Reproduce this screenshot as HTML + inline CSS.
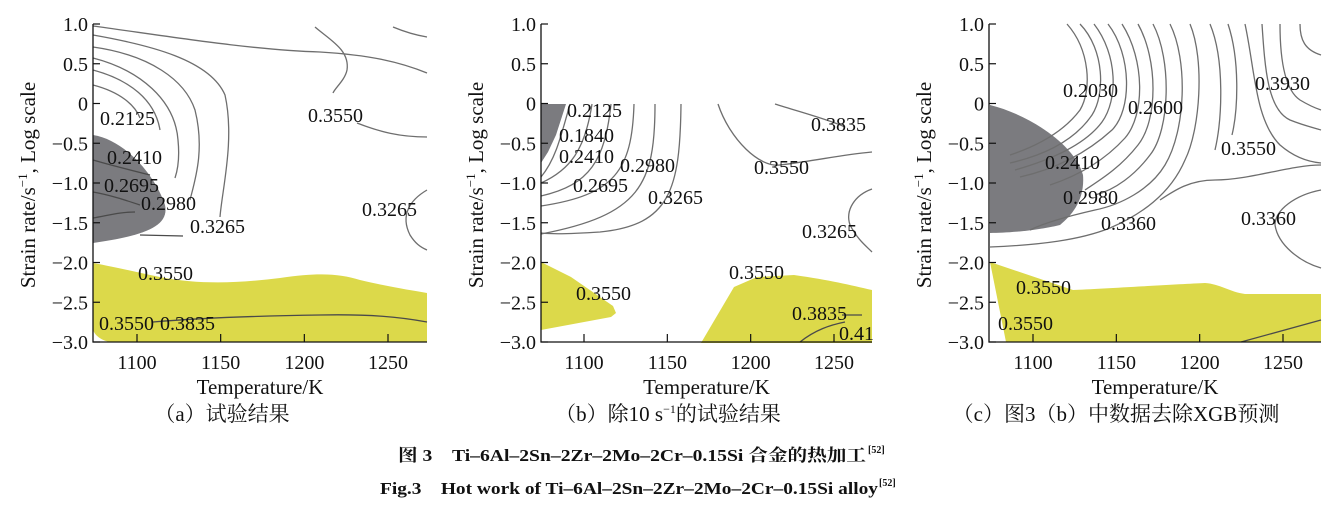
<!DOCTYPE html>
<html><head><meta charset="utf-8"><style>
html,body{margin:0;padding:0;background:#fff;width:1332px;height:511px;overflow:hidden}
svg{display:block}
text{font-family:"Liberation Serif","Noto Serif CJK SC","Noto Sans CJK SC",serif;fill:#111}
.c{fill:none;stroke:#6e6e6e;stroke-width:1.3}
.k{fill:none;stroke:#4a4a4a;stroke-width:1.3}
.lb{font-size:20px}
</style></head><body>
<svg id="s" width="1332" height="511" viewBox="0 0 1332 511" xmlns="http://www.w3.org/2000/svg">
<path d="M93,135 C125,140 155,175 165,205 C170,228 140,236 93,243 Z" fill="#7b7b7f"/>
<path d="M93,263 C120,268 140,273 160,277 C200,285 240,283 280,278 C320,272 340,274 360,280 C390,287 410,290 427,293 L427,330 L427,342 L110,342 C100,340 95,335 93,330 Z" fill="#dcd94a"/>
<path class="c" d="M93,26 C160,35 250,50 320,52 C370,55 400,62 427,73"/>
<path class="c" d="M93,35 C150,45 210,60 225,95 C235,140 222,190 220,217"/>
<path class="c" d="M93,47 C150,55 185,80 195,110 C205,150 195,180 190,200"/>
<path class="c" d="M93,58 C140,70 175,100 178,140 C180,160 177,172 175,178"/>
<path class="c" d="M93,70 C130,80 155,100 160,130"/>
<path class="c" d="M93,85 C120,92 135,105 140,118"/>
<path class="c" d="M315,27 C330,40 350,50 347,70 C345,80 335,88 333,93"/>
<path class="c" d="M357,123 C380,132 400,137 427,137"/>
<path class="c" d="M393,27 C405,32 415,35 427,37"/>
<path class="c" d="M427,190 C410,200 400,215 410,235 C415,243 420,247 427,250"/>
<path class="k" d="M93,160 C110,165 130,170 150,175"/>
<path class="k" d="M93,192 C110,195 125,200 140,205"/>
<path class="k" d="M93,218 C110,215 120,212 135,212"/>
<path class="k" d="M140,235 L183,236"/>
<path class="k" d="M153,322 C200,318 250,316 320,315 C370,314 400,317 427,322"/>
<path d="M541,104 L566,104 L556,135 L548,152 L541,163 Z" fill="#7b7b7f"/>
<path d="M541,262 L571,277 L613,306 L616,313 L611,317 L541,330 Z" fill="#dcd94a"/>
<path d="M701,343 L734,287 L757,277 L794,275 C830,280 850,285 872,290 L872,343 Z" fill="#dcd94a"/>
<path class="c" d="M570,104 C560,140 555,160 541,177"/>
<path class="c" d="M592,104 C585,150 570,170 541,183"/>
<path class="c" d="M611,104 C605,160 590,185 541,196"/>
<path class="c" d="M634,104 C632,170 615,195 541,206"/>
<path class="c" d="M655,104 C655,185 640,215 541,234"/>
<path class="c" d="M681,104 C680,190 670,225 600,232 C570,234 550,234 541,233"/>
<path class="c" d="M718,104 C730,140 760,168 780,165 C820,160 840,155 872,152"/>
<path class="c" d="M775,104 C800,112 830,120 845,127"/>
<path class="c" d="M872,189 C855,195 845,210 850,225 C858,240 865,245 872,252"/>
<path class="k" d="M842,315 L862,315"/>
<path class="k" d="M800,342 C815,330 830,325 845,322"/>
<path d="M990,105 C1030,115 1075,145 1083,175 C1085,200 1072,215 1060,225 C1040,230 1010,233 990,233 Z" fill="#7b7b7f"/>
<path d="M990,262 L1073,290 C1100,289 1180,284 1205,283 C1220,284 1230,292 1245,294 L1321,294 L1321,342 L1006,342 Z" fill="#dcd94a"/>
<path class="k" d="M1241,342 L1321,320"/>
<path class="c" d="M1067,24 C1090,50 1092,90 1080,110 C1065,130 1040,145 1010,155"/>
<path class="c" d="M1080,24 C1105,50 1105,95 1092,115 C1075,140 1045,155 1010,163"/>
<path class="c" d="M1094,24 C1118,55 1118,100 1102,122 C1085,145 1050,160 1015,170"/>
<path class="c" d="M1108,24 C1132,55 1132,110 1112,130 C1090,150 1060,168 1020,177"/>
<path class="c" d="M1122,24 C1145,60 1145,115 1125,138 C1105,160 1080,175 1050,185"/>
<path class="c" d="M1138,24 C1158,60 1158,120 1138,145 C1120,168 1100,180 1085,190"/>
<path class="c" d="M1153,24 C1172,60 1170,130 1150,155 C1135,175 1115,190 1095,195"/>
<path class="c" d="M1170,24 C1188,60 1186,130 1165,165 C1150,190 1120,205 1095,210 C1060,218 1040,225 1030,230"/>
<path class="c" d="M1190,24 C1205,60 1200,130 1185,160 C1170,195 1140,215 1110,228 C1080,240 1040,245 990,247"/>
<path class="c" d="M1210,24 C1225,60 1222,120 1215,150"/>
<path class="c" d="M1228,24 C1240,60 1238,110 1232,135"/>
<path class="c" d="M1245,24 C1255,70 1255,120 1280,145 C1295,158 1310,162 1321,163"/>
<path class="c" d="M1262,24 C1265,70 1268,110 1290,120 C1305,126 1315,128 1321,130"/>
<path class="c" d="M1280,24 C1280,60 1285,90 1300,100 C1310,106 1315,108 1321,110"/>
<path class="c" d="M1300,24 C1300,40 1305,50 1321,55"/>
<path class="c" d="M1321,190 C1295,195 1275,210 1275,225 C1278,245 1300,262 1321,268"/>
<path class="c" d="M1160,200 C1175,190 1190,180 1215,180 C1250,180 1290,165 1321,165"/>
<g id="axes"></g>
<g class="lb">
<text x="100" y="125">0.2125</text><text x="308" y="122">0.3550</text>
<text x="107" y="164">0.2410</text><text x="104" y="192">0.2695</text>
<text x="141" y="210">0.2980</text><text x="190" y="233">0.3265</text>
<text x="362" y="216">0.3265</text><text x="138" y="280">0.3550</text>
<text x="99" y="330">0.3550</text><text x="160" y="330">0.3835</text>
<text x="567" y="117">0.2125</text><text x="559" y="142">0.1840</text>
<text x="559" y="163">0.2410</text><text x="620" y="172">0.2980</text>
<text x="573" y="192">0.2695</text><text x="648" y="204">0.3265</text>
<text x="754" y="174">0.3550</text><text x="811" y="131">0.3835</text>
<text x="802" y="238">0.3265</text><text x="729" y="279">0.3550</text>
<text x="576" y="300">0.3550</text><text x="792" y="320">0.3835</text>
<text x="839" y="340">0.41</text>
<text x="1063" y="97">0.2030</text><text x="1128" y="114">0.2600</text>
<text x="1255" y="90">0.3930</text><text x="1221" y="155">0.3550</text>
<text x="1045" y="169">0.2410</text><text x="1063" y="204">0.2980</text>
<text x="1101" y="230">0.3360</text><text x="1241" y="225">0.3360</text>
<text x="1016" y="294">0.3550</text><text x="998" y="330">0.3550</text>
</g>
<text x="222" y="421" text-anchor="middle" font-size="21">（a）试验结果</text>
<text x="668" y="421" text-anchor="middle" font-size="21">（b）除10 s<tspan dy="-8" font-size="12">−1</tspan><tspan dy="8">的试验结果</tspan></text>
<text x="1116" y="421" text-anchor="middle" font-size="21">（c）图3（b）中数据去除XGB预测</text>
<text x="398" y="461" font-size="17" font-weight="bold" textLength="468" lengthAdjust="spacingAndGlyphs">图 3　Ti–6Al–2Sn–2Zr–2Mo–2Cr–0.15Si 合金的热加工</text>
<text x="868" y="453" font-size="10" font-weight="bold">[52]</text>
<text x="380" y="494" font-size="17" font-weight="bold" textLength="498" lengthAdjust="spacingAndGlyphs">Fig.3　Hot work of Ti–6Al–2Sn–2Zr–2Mo–2Cr–0.15Si alloy</text>
<text x="879" y="486" font-size="10" font-weight="bold">[52]</text>
</svg>
<script>
var g=document.getElementById('axes'),h='';
[[93,137,388,427],[541,584,834,872],[989,1033,1283,1321]].forEach(function(p){
var x0=p[0],d=(p[2]-p[1])/3;
h+='<path d="M'+x0+',24 L'+x0+',342 L'+p[3]+',342" fill="none" stroke="#111" stroke-width="1.3"/>';
var ys=['1.0','0.5','0','−0.5','−1.0','−1.5','−2.0','−2.5','−3.0'];
for(var i=0;i<9;i++){var y=24+i*39.75;h+='<line x1="'+x0+'" y1="'+y+'" x2="'+(x0+7)+'" y2="'+y+'" stroke="#111" stroke-width="1.2"/>';
h+='<text x="'+(x0-5)+'" y="'+(y+7)+'" text-anchor="end" font-size="20">'+ys[i]+'</text>';}
for(var j=0;j<4;j++){var x=p[1]+j*d;h+='<line x1="'+x+'" y1="342" x2="'+x+'" y2="334" stroke="#111" stroke-width="1.2"/>';
h+='<text x="'+x+'" y="369" text-anchor="middle" font-size="20">'+(1100+50*j)+'</text>';}
var cx=(x0+p[3])/2;
h+='<text x="'+cx+'" y="394" text-anchor="middle" font-size="21">Temperature/K</text>';
var tx=x0-58;
h+='<text transform="translate('+tx+',185) rotate(-90)" text-anchor="middle" font-size="21">Strain rate/s<tspan dy="-8" font-size="13">−1</tspan><tspan dy="8">, Log scale</tspan></text>';
});
g.innerHTML=h;
</script>
</body></html>
